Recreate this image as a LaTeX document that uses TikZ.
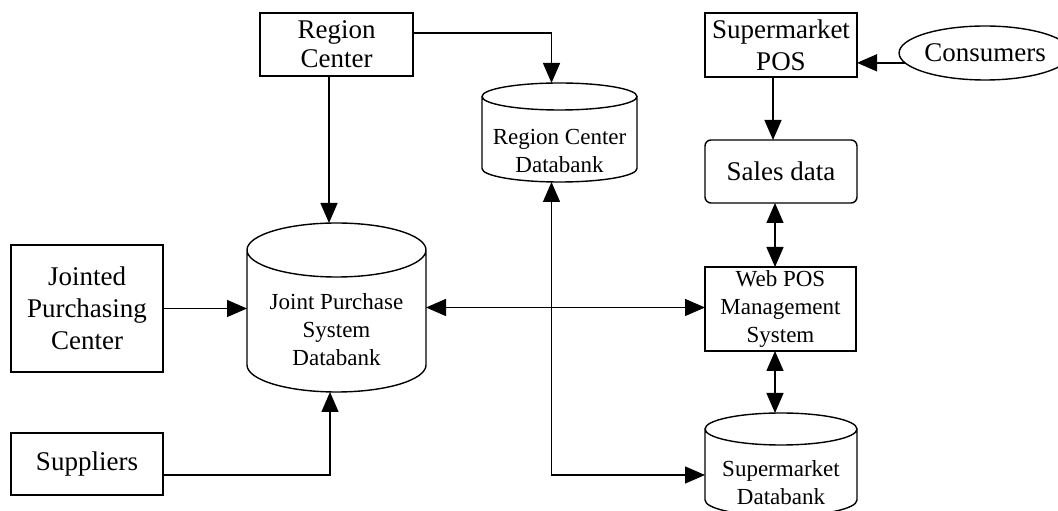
\documentclass[tikz,border=0pt]{standalone}
\usepackage{fontspec}
\setmainfont{Liberation Serif}
\usetikzlibrary{arrows.meta,shapes.geometric,calc}
\newcommand\tkbig{\fontsize{27}{32}\selectfont}
\newcommand\tksmall{\fontsize{23}{28}\selectfont}
\newcommand\drawcyl[2]{%
  \draw[line width=1.4pt] let \p1=(#1.north west), \p2=(#1.south east), \n1={(\x2-\x1)/2} in
    ({\x1+\n1},{\y1-#2}) ellipse[x radius=\n1, y radius=#2]
    (\x1,{\y1-#2}) -- (\x1,{\y2+#2}) arc[start angle=180, end angle=360, x radius=\n1, y radius=#2] -- (\x2,{\y1-#2});
}
\begin{document}
\begin{tikzpicture}[x=1pt,y=1pt,
  every node/.style={inner sep=0pt, outer sep=0pt},
  box/.style={draw, line width=1.4pt, align=center, font=\tkbig},
  rbox/.style={box, rounded corners=6pt},
  cyltext/.style={align=center, font=\tksmall},
  ln/.style={line width=1.4pt},
  tip/.tip={Triangle[length=20pt,width=17pt]},
  arr/.style={ln, -tip},
  darr/.style={ln, tip-tip}]
\useasboundingbox (0,0) rectangle (1058,511);
\fill[white] (0,0) rectangle (1058,511);

\node[box, minimum width=153pt, minimum height=63pt] (rc) at (336.5,466.5) {Region\\[-3pt]Center};
\node[box, minimum width=152pt, minimum height=64pt] (pos) at (781,466) {Supermarket\\POS};
\node[draw, ellipse, line width=1.4pt, minimum width=144pt, minimum height=54pt, font=\tkbig] (cons) at (985,458) {Consumers};
\node[rbox, minimum width=152pt, minimum height=63pt] (sales) at (781,339.5) {Sales data};
\node[box, font=\tksmall, minimum width=151pt, minimum height=84pt] (web) at (780.5,202) {Web POS\\Management\\System};
\node[box, minimum width=152pt, minimum height=127pt] (jpc) at (87,202.5) {Jointed\\Purchasing\\Center};
\node[box, minimum width=152pt, minimum height=62pt] (sup) at (87,47) {Suppliers};

\node[minimum width=179pt, minimum height=169pt] (jps) at (336.5,203.5) {};
\node[minimum width=155pt, minimum height=99pt] (rcd) at (559.5,378.5) {};
\node[minimum width=152pt, minimum height=103pt] (sd) at (781,46.5) {};
\drawcyl{jps}{27pt}
\drawcyl{rcd}{13.5pt}
\drawcyl{sd}{16pt}
\node[cyltext] (jpst) at (336.5,181) {Joint Purchase\\System\\Databank};
\node[cyltext] (rcdt) at (559.5,360) {Region Center\\Databank};
\node[cyltext] (sdt) at (781,28) {Supermarket\\Databank};

\draw[arr] ([yshift=11.5pt]rc.east) -| ([xshift=-8pt]rcd.north);
\draw[arr] ([xshift=-7.5pt]rc.south) -- ([xshift=-7.5pt]jps.north);
\draw[arr] (jpc.east) -- (jpc.east -| jps.west);
\draw[arr] ([yshift=-11pt]sup.east) -| ([xshift=-6.5pt]jps.south);
\draw[darr] (jps.east) -- (jps.east -| web.west);
\draw[darr] ([xshift=-8pt]rcd.south) |- ([yshift=-10.5pt]sd.west);
\draw[arr] (cons.187) -- (cons.187 -| pos.east);
\draw[arr] ([xshift=-8pt]pos.south) -- ([xshift=-8pt]pos.south |- sales.north);
\draw[darr] ([xshift=-5.5pt]web.north) -- ([xshift=-5.5pt]web.north |- sales.south);
\draw[darr] ([xshift=-5.5pt]web.south) -- ([xshift=-5.5pt]web.south |- sd.north);
\end{tikzpicture}
\end{document}
